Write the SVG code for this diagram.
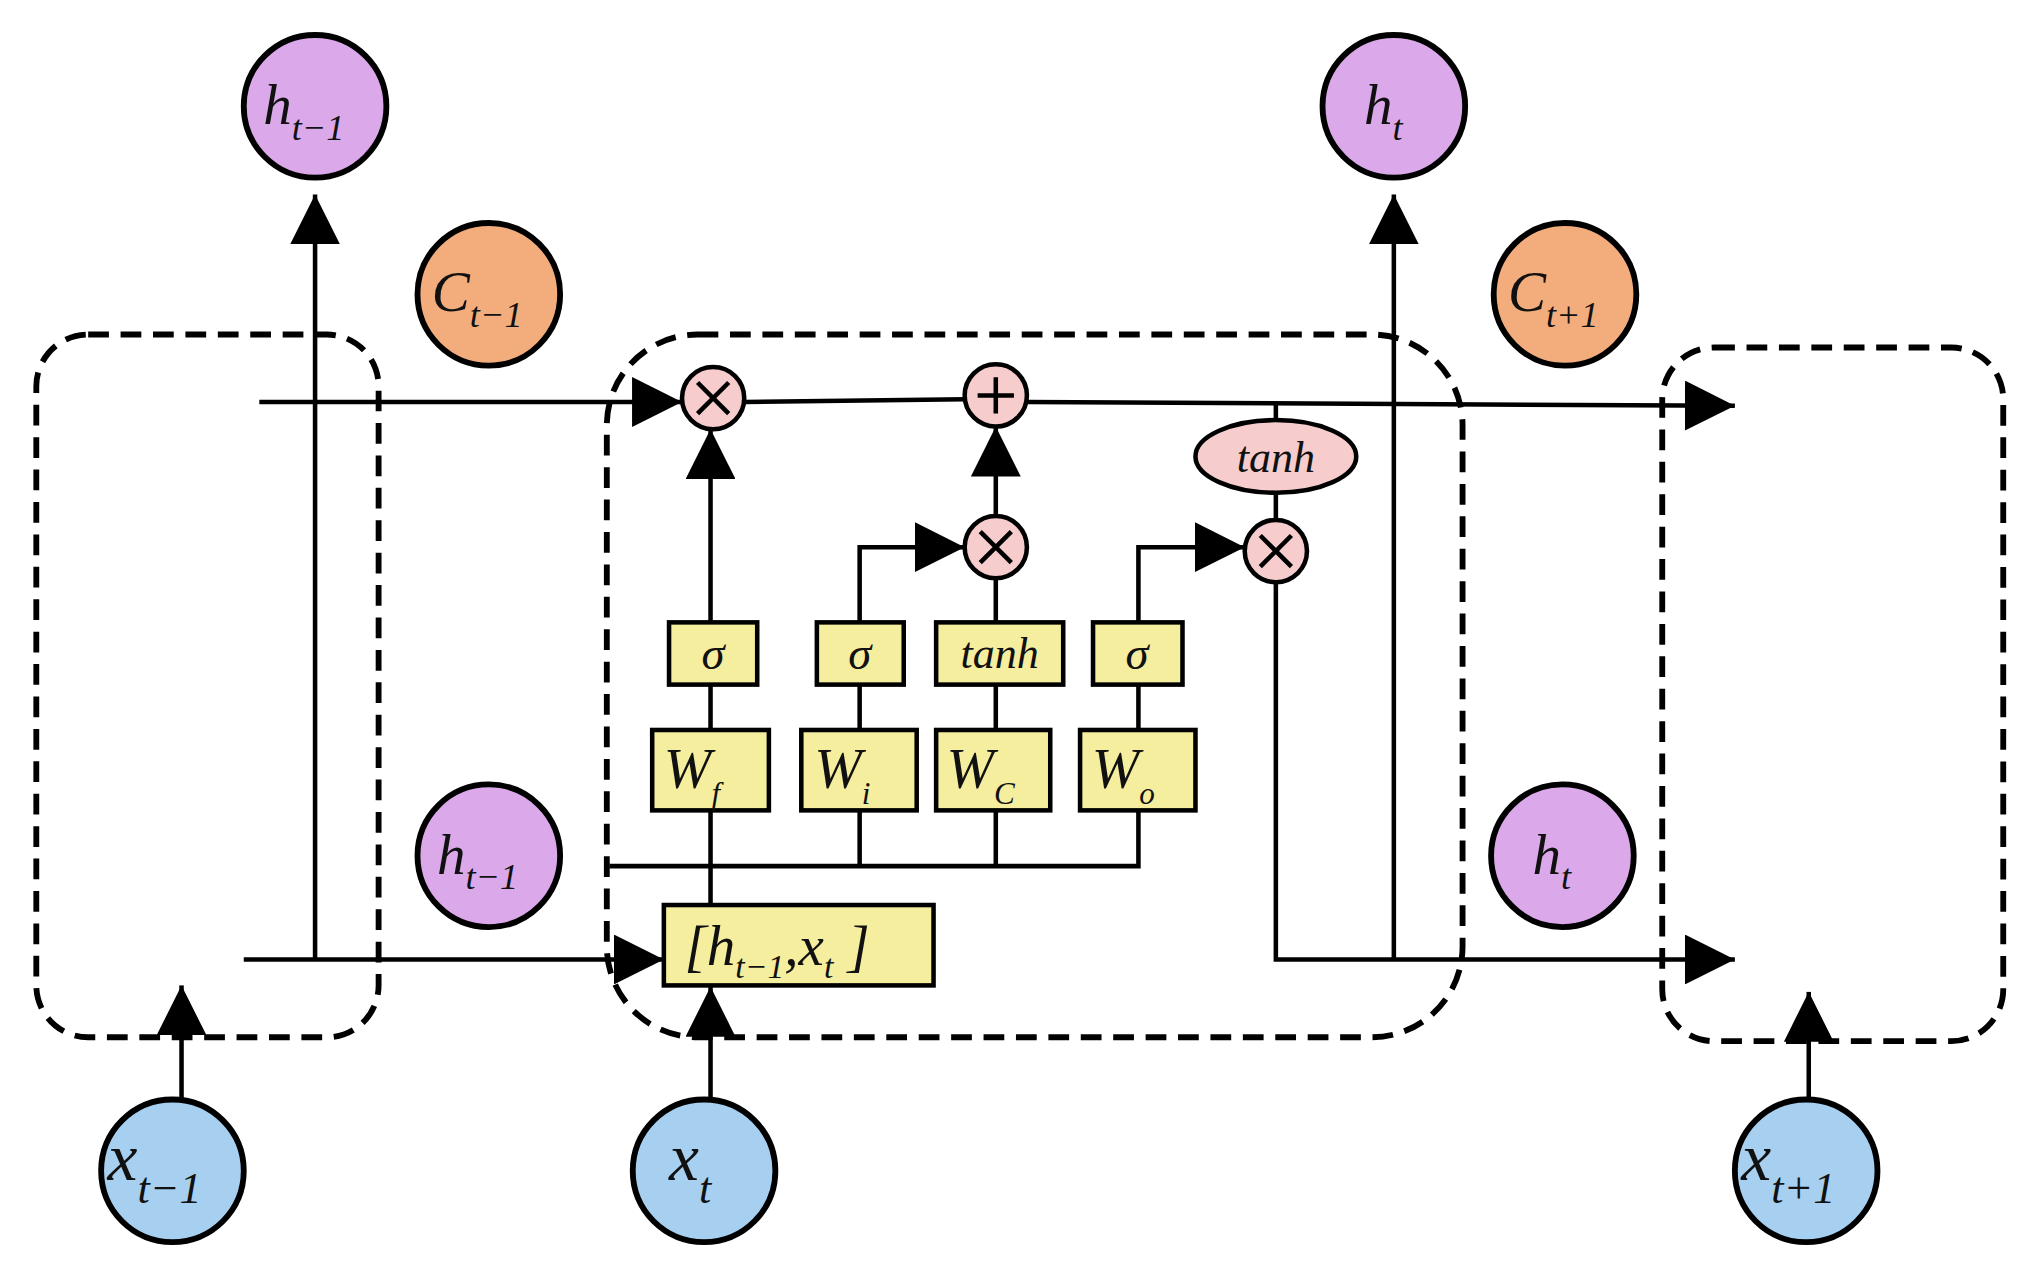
<svg xmlns="http://www.w3.org/2000/svg" width="2033" height="1280" viewBox="0 0 2033 1280">
<style>
.ln{stroke:#000;stroke-width:3.5;fill:none}
.dash{stroke:#000;stroke-width:4.5;fill:none;stroke-dasharray:16 9}
.nd{stroke:#000;stroke-width:4.5}
.op{fill:#f6cccc;stroke:#000;stroke-width:3.5}
.bx{fill:#f5ee9e;stroke:#000;stroke-width:3.5}
.t{font-family:"Liberation Serif",serif;font-style:italic;fill:#111}
.s{font-family:"Liberation Serif",serif;font-style:italic;fill:#111}
</style>
<defs>
<marker id="a" viewBox="0 0 10 10" refX="10" refY="5" markerWidth="10" markerHeight="10" markerUnits="userSpaceOnUse" orient="auto"><path d="M0,0L10,5L0,10z" fill="#000"/></marker>
<marker id="b" viewBox="0 0 10 10" refX="10" refY="5" markerWidth="11" markerHeight="11" orient="auto"><path d="M0,0L10,5L0,10z" fill="#000"/></marker>
</defs>
<rect width="2033" height="1280" fill="#fff"/>
<g transform="scale(1.2966)">
<g id="frames">
<rect class="dash" x="28" y="258" width="264" height="542" rx="40"/>
<rect class="dash" x="468" y="258" width="660" height="542" rx="70"/>
<rect class="dash" x="1282" y="268" width="263" height="535" rx="40"/>
</g>
<g id="connectors">
<line class="ln" x1="200" y1="310" x2="526" y2="310" marker-end="url(#b)"/>
<line class="ln" x1="574" y1="310" x2="744" y2="308"/>
<line class="ln" x1="792" y1="310" x2="1338" y2="313" marker-end="url(#b)"/>
<line class="ln" x1="243" y1="740" x2="243" y2="150" marker-end="url(#b)"/>
<line class="ln" x1="1075" y1="740" x2="1075" y2="150" marker-end="url(#b)"/>
<line class="ln" x1="188" y1="740" x2="512" y2="740" marker-end="url(#b)"/>
<polyline class="ln" points="984,449 984,740 1338,740" marker-end="url(#b)"/>
<line class="ln" x1="984" y1="310" x2="984" y2="324"/>
<line class="ln" x1="984" y1="380" x2="984" y2="401"/>
<line class="ln" x1="548" y1="698" x2="548" y2="331" marker-end="url(#b)"/>
<polyline class="ln" points="663,563 663,528"/>
<polyline class="ln" points="663,480 663,422 744,422" marker-end="url(#b)"/>
<polyline class="ln" points="878,563 878,528"/>
<polyline class="ln" points="878,480 878,422 960,422" marker-end="url(#b)"/>
<line class="ln" x1="768" y1="480" x2="768" y2="446"/>
<line class="ln" x1="768" y1="563" x2="768" y2="528"/>
<line class="ln" x1="768" y1="398" x2="768" y2="329" marker-end="url(#b)"/>
<polyline class="ln" points="470,668 878,668 878,625"/>
<line class="ln" x1="663" y1="668" x2="663" y2="625"/>
<line class="ln" x1="768" y1="668" x2="768" y2="625"/>
<line class="ln" x1="140" y1="848" x2="140" y2="760" marker-end="url(#b)"/>
<line class="ln" x1="548" y1="848" x2="548" y2="761" marker-end="url(#b)"/>
<line class="ln" x1="1395" y1="848" x2="1395" y2="765" marker-end="url(#b)"/>
</g>
<g id="ops">
<circle class="op" cx="550" cy="307" r="24"/>
<path class="ln" d="M538,295L562,319M562,295L538,319" stroke-width="2.5"/>
<circle class="op" cx="768" cy="305" r="24"/>
<path class="ln" d="M768,291V319M754,305H782" stroke-width="2.5"/>
<circle class="op" cx="768" cy="422" r="24"/>
<path class="ln" d="M756,410L780,434M780,410L756,434" stroke-width="2.5"/>
<circle class="op" cx="984" cy="425" r="24"/>
<path class="ln" d="M972,413L996,437M996,413L972,437" stroke-width="2.5"/>
<g id="tanh-op"><ellipse class="op" cx="984" cy="352" rx="62" ry="28"/><text class="t" x="984" y="364" font-size="34" text-anchor="middle">tanh</text></g>
</g>
<g id="gates">
<g id="sf"><rect class="bx" x="516" y="480" width="68" height="48"/><text class="t" x="550" y="516" font-size="36" text-anchor="middle">σ</text></g>
<g id="si"><rect class="bx" x="630" y="480" width="67" height="48"/><text class="t" x="663" y="516" font-size="36" text-anchor="middle">σ</text></g>
<g id="tc"><rect class="bx" x="722" y="480" width="98" height="48"/><text class="t" x="771" y="515" font-size="34" text-anchor="middle">tanh</text></g>
<g id="so"><rect class="bx" x="843" y="480" width="69" height="48"/><text class="t" x="877" y="516" font-size="36" text-anchor="middle">σ</text></g>
<g id="wf"><rect class="bx" x="503" y="563" width="90" height="62"/><text class="t" x="512" y="608" font-size="44">W<tspan font-size="24" dy="12">f</tspan></text></g>
<g id="wi"><rect class="bx" x="618" y="563" width="89" height="62"/><text class="t" x="628" y="608" font-size="44">W<tspan font-size="24" dy="12">i</tspan></text></g>
<g id="wc"><rect class="bx" x="722" y="563" width="88" height="62"/><text class="t" x="730" y="608" font-size="44">W<tspan font-size="24" dy="12">C</tspan></text></g>
<g id="wo"><rect class="bx" x="833" y="563" width="89" height="62"/><text class="t" x="842" y="608" font-size="44">W<tspan font-size="24" dy="12">o</tspan></text></g>
<g id="concat"><rect class="bx" x="512" y="698" width="208" height="62"/><text class="t" x="528" y="744" font-size="44">[h<tspan font-size="26" dy="10">t−1</tspan><tspan dy="-10">,x</tspan><tspan font-size="26" dy="10">t</tspan><tspan dy="-10"> ]</tspan></text></g>
</g>
<g id="nodes">
<g id="h-prev-top"><circle class="nd" cx="243" cy="82" r="55" fill="#dba8ea"/><text class="s" x="203" y="96" font-size="44">h<tspan font-size="28" dy="12">t−1</tspan></text></g>
<g id="c-prev"><circle class="nd" cx="377" cy="227" r="55" fill="#f3ad7d"/><text class="s" x="333" y="240" font-size="44">C<tspan font-size="28" dy="12">t−1</tspan></text></g>
<g id="h-prev-low"><circle class="nd" cx="377" cy="660" r="55" fill="#dba8ea"/><text class="s" x="337" y="674" font-size="44">h<tspan font-size="28" dy="12">t−1</tspan></text></g>
<g id="x-prev"><circle class="nd" cx="133" cy="903" r="55" fill="#a6cff0"/><text class="s" x="83" y="910" font-size="52">x<tspan font-size="34" dy="18">t−1</tspan></text></g>
<g id="x-t"><circle class="nd" cx="543" cy="903" r="55" fill="#a6cff0"/><text class="s" x="516" y="910" font-size="52">x<tspan font-size="34" dy="18">t</tspan></text></g>
<g id="x-next"><circle class="nd" cx="1393" cy="903" r="55" fill="#a6cff0"/><text class="s" x="1343" y="910" font-size="52">x<tspan font-size="34" dy="18">t+1</tspan></text></g>
<g id="h-t-top"><circle class="nd" cx="1075" cy="82" r="55" fill="#dba8ea"/><text class="s" x="1052" y="96" font-size="44">h<tspan font-size="28" dy="12">t</tspan></text></g>
<g id="c-next"><circle class="nd" cx="1207" cy="227" r="55" fill="#f3ad7d"/><text class="s" x="1163" y="240" font-size="44">C<tspan font-size="28" dy="12">t+1</tspan></text></g>
<g id="h-t-low"><circle class="nd" cx="1205" cy="660" r="55" fill="#dba8ea"/><text class="s" x="1182" y="674" font-size="44">h<tspan font-size="28" dy="12">t</tspan></text></g>
</g>
</g>
</svg>
